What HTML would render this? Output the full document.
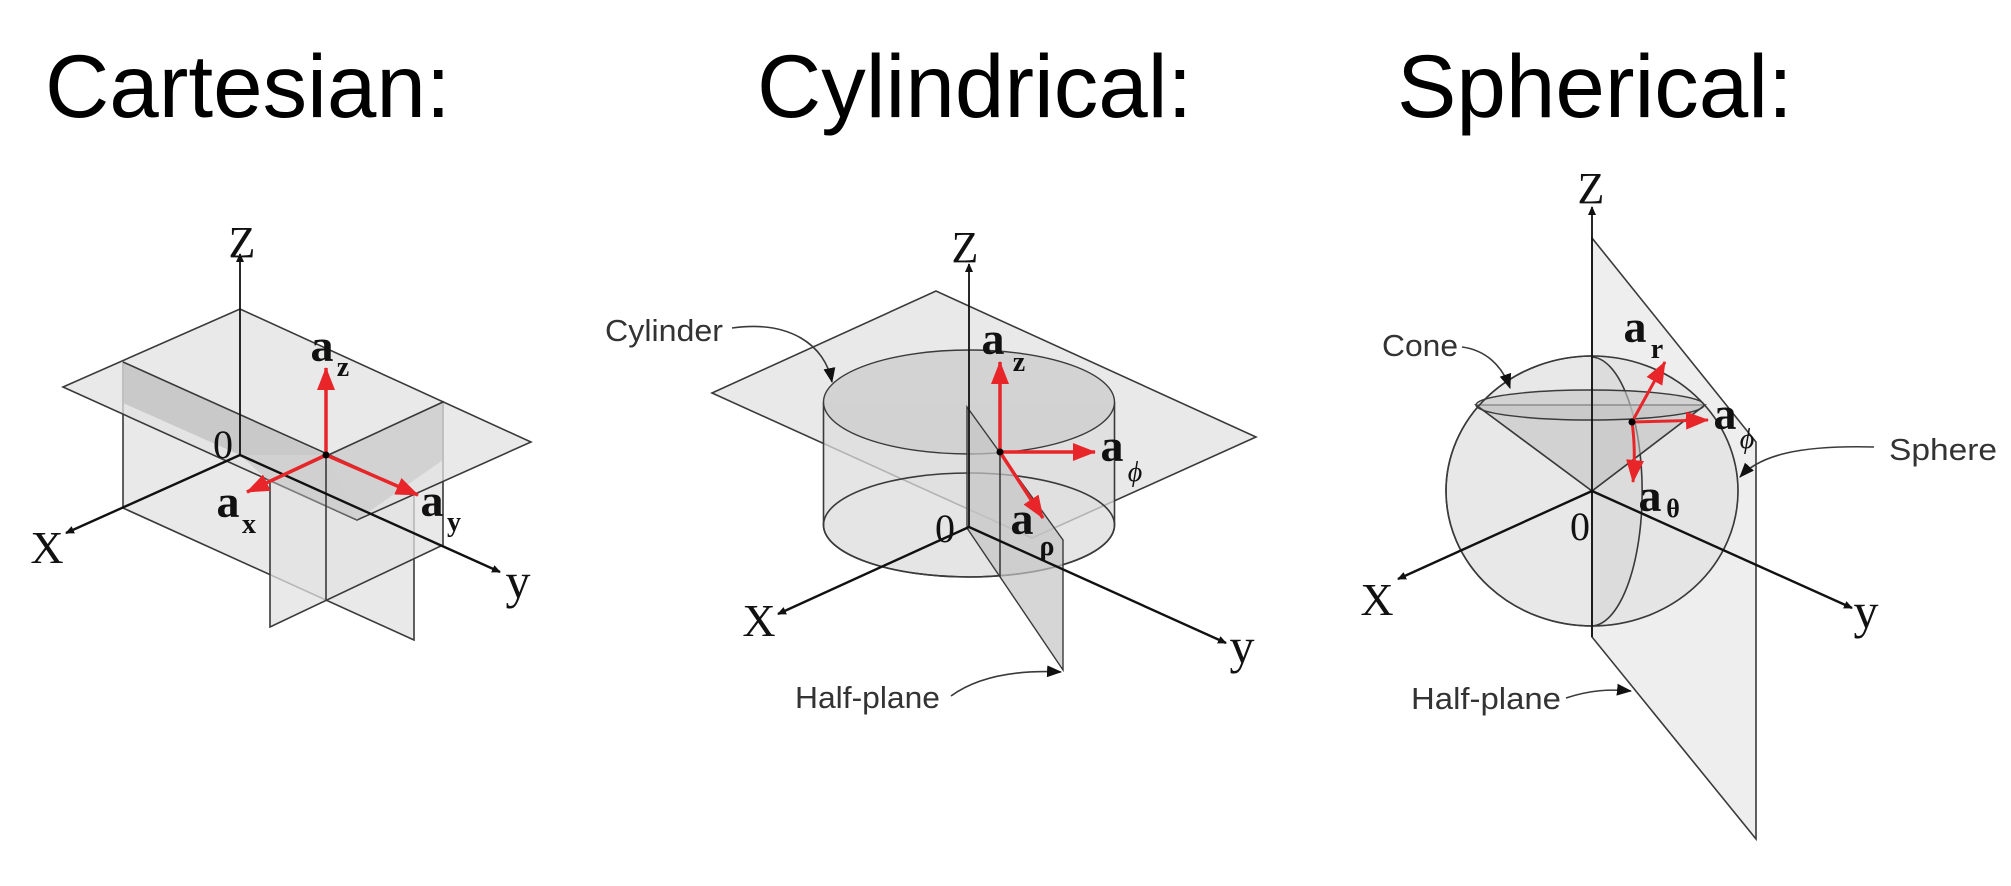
<!DOCTYPE html>
<html><head><meta charset="utf-8"><style>
html,body{margin:0;padding:0;background:#fff;}
svg{display:block;}
.t{font-family:"Liberation Sans",sans-serif;font-size:89px;fill:#000;}
.s{font-family:"Liberation Serif",serif;fill:#111;}
.b{font-family:"Liberation Serif",serif;font-weight:bold;fill:#111;}
.n{font-family:"Liberation Sans",sans-serif;fill:#333;font-size:31px;}
.ln{stroke:#3a3a3a;stroke-width:1.6;fill:none;}
.pl{fill:#e2e2e2;stroke:#3a3a3a;stroke-width:1.6;fill-opacity:.75;}
.dk{fill:#bdbdbd;fill-opacity:.7;stroke:#3a3a3a;stroke-width:1.4;}
.ax{stroke:#111;stroke-width:2.4;fill:none;}
.rd{stroke:#e8262a;stroke-width:3.5;fill:none;}
</style></head><body>
<svg width="2011" height="886" viewBox="0 0 2011 886" xmlns="http://www.w3.org/2000/svg">
<defs>
<marker id="ar" markerWidth="10" markerHeight="10" refX="8" refY="5" orient="auto" markerUnits="userSpaceOnUse"><path d="M0,1 L9,5 L0,9 z" fill="#111"/></marker>
<marker id="rr" markerWidth="24" markerHeight="18" refX="22" refY="9" orient="auto" markerUnits="userSpaceOnUse"><path d="M0,0 L23,9 L0,18 z" fill="#e8262a"/></marker>
<marker id="la" markerWidth="16" markerHeight="14" refX="14" refY="7" orient="auto" markerUnits="userSpaceOnUse"><path d="M0,1 L15,7 L0,13 z" fill="#111"/></marker>
</defs>

<text class="t" x="45" y="117">Cartesian:</text>
<text class="t" x="757" y="117">Cylindrical:</text>
<text class="t" x="1397" y="117">Spherical:</text>

<!-- CARTESIAN -->
<polygon class="pl" points="123,362 414,493 414,640 123,508"/>
<polygon class="pl" points="443,402 270,482 270,627 443,545"/>
<polygon class="pl" points="63,387 240,309 531,442 357,520"/>
<polygon class="dk" points="123,362 326,455 240,455 123,403" style="stroke:none"/>
<polygon class="dk" points="240,455 326,455 357,520 270,482" style="stroke:none;fill-opacity:.5"/>
<polygon class="dk" points="326,455 443,402 443,460 357,520" style="stroke:none;fill-opacity:.45"/>
<line class="ln" x1="123" y1="362" x2="414" y2="493"/>
<line class="ln" x1="270" y1="482" x2="443" y2="402"/>
<line class="ln" x1="326" y1="455" x2="326" y2="600"/>
<line class="ax" x1="240" y1="455" x2="240" y2="254" marker-end="url(#ar)" style="stroke-width:1.8"/>
<line class="ax" x1="240" y1="455" x2="66" y2="533" marker-end="url(#ar)"/>
<line class="ax" x1="240" y1="455" x2="500" y2="572" marker-end="url(#ar)"/>
<text class="s" x="242" y="257" font-size="44" text-anchor="middle">Z</text>
<text class="s" x="47" y="563" font-size="46" text-anchor="middle">X</text>
<text class="s" x="518" y="598" font-size="50" text-anchor="middle">y</text>
<text class="s" x="223" y="458" font-size="40" text-anchor="middle">0</text>
<line class="rd" x1="326" y1="455" x2="326" y2="368" marker-end="url(#rr)"/>
<line class="rd" x1="326" y1="455" x2="247" y2="492" marker-end="url(#rr)"/>
<line class="rd" x1="326" y1="455" x2="418" y2="495" marker-end="url(#rr)"/>
<circle cx="326" cy="455" r="3.5" fill="#000"/>
<text class="b" x="322" y="361" font-size="46" text-anchor="middle">a</text>
<text class="b" x="343" y="376" font-size="28" text-anchor="middle">z</text>
<text class="b" x="228" y="517" font-size="46" text-anchor="middle">a</text>
<text class="b" x="249" y="533" font-size="28" text-anchor="middle">x</text>
<text class="b" x="432" y="516" font-size="46" text-anchor="middle">a</text>
<text class="b" x="454" y="531" font-size="28" text-anchor="middle">y</text>

<!-- CYLINDRICAL -->
<polygon class="pl" points="712,393 936,291 1256,437 1032,538"/>
<path class="pl" d="M823.5,402 L823.5,525 A145.5,52 0 0 0 1114.5,525 L1114.5,402" style="fill:#dcdcdc"/>
<ellipse class="ln" cx="969" cy="525" rx="145.5" ry="52"/>
<ellipse class="dk" cx="969" cy="402" rx="145.5" ry="52" style="fill:#cfcfcf;fill-opacity:.85"/>
<polygon class="dk" points="967,407 1063,540 1063,670 967,528" style="fill:#c4c4c4"/>
<line class="ln" x1="1000" y1="452" x2="1000" y2="577"/>
<line class="ax" x1="969" y1="527" x2="969" y2="264" marker-end="url(#ar)" style="stroke-width:1.8"/>
<line class="ax" x1="969" y1="527" x2="778" y2="614" marker-end="url(#ar)"/>
<line class="ax" x1="969" y1="527" x2="1226" y2="643" marker-end="url(#ar)"/>
<text class="s" x="965" y="262" font-size="44" text-anchor="middle">Z</text>
<text class="s" x="759" y="636" font-size="46" text-anchor="middle">X</text>
<text class="s" x="1242" y="663" font-size="50" text-anchor="middle">y</text>
<text class="s" x="945" y="542" font-size="40" text-anchor="middle">0</text>
<line class="rd" x1="1000" y1="452" x2="1000" y2="362" marker-end="url(#rr)"/>
<line class="rd" x1="1000" y1="452" x2="1095" y2="452" marker-end="url(#rr)"/>
<line class="rd" x1="1000" y1="452" x2="1043" y2="518" marker-end="url(#rr)"/>
<circle cx="1000" cy="452" r="3.5" fill="#000"/>
<text class="b" x="993" y="354" font-size="46" text-anchor="middle">a</text>
<text class="b" x="1019" y="371" font-size="28" text-anchor="middle">z</text>
<text class="b" x="1112" y="461" font-size="46" text-anchor="middle">a</text>
<text class="s" x="1135" y="481" font-size="28" font-style="italic" text-anchor="middle">ϕ</text>
<text class="b" x="1022" y="534" font-size="46" text-anchor="middle">a</text>
<text class="b" x="1047" y="555" font-size="28" text-anchor="middle">ρ</text>
<text class="n" x="605" y="341" textLength="118" lengthAdjust="spacingAndGlyphs">Cylinder</text>
<path d="M732,328 C790,320 825,345 832,382" class="ln" marker-end="url(#la)"/>
<text class="n" x="795" y="708" textLength="145" lengthAdjust="spacingAndGlyphs">Half-plane</text>
<path d="M951,696 C980,675 1020,670 1061,672" class="ln" marker-end="url(#la)"/>

<!-- SPHERICAL -->
<ellipse class="pl" cx="1592" cy="491" rx="146" ry="135" style="fill:#e0e0e0"/>
<path d="M1591,357 A51,134 0 0 1 1591,626 L1591,491 z" class="dk" style="fill:#c8c8c8;stroke:none"/>
<polygon class="pl" points="1592,238 1756,442 1756,839 1592,637" style="fill-opacity:.6"/>
<path class="ln" d="M1591,357 A51,134 0 0 1 1591,626"/>
<polygon class="dk" points="1476,405 1705,405 1592,491" style="fill:#bfbfbf;fill-opacity:.55"/>
<ellipse class="dk" cx="1590" cy="405" rx="114" ry="15" style="fill:#c4c4c4;fill-opacity:.6"/>
<line class="ln" x1="1476" y1="405" x2="1592" y2="491"/>
<line class="ln" x1="1705" y1="405" x2="1592" y2="491"/>
<ellipse class="ln" cx="1592" cy="491" rx="146" ry="135"/>
<line class="ax" x1="1592" y1="637" x2="1592" y2="207" marker-end="url(#ar)" style="stroke-width:1.8"/>
<line class="ax" x1="1592" y1="491" x2="1398" y2="579" marker-end="url(#ar)"/>
<line class="ax" x1="1592" y1="491" x2="1852" y2="608" marker-end="url(#ar)"/>
<text class="s" x="1591" y="203" font-size="44" text-anchor="middle">Z</text>
<text class="s" x="1377" y="615" font-size="46" text-anchor="middle">X</text>
<text class="s" x="1866" y="628" font-size="50" text-anchor="middle">y</text>
<text class="s" x="1580" y="540" font-size="40" text-anchor="middle">0</text>
<line class="rd" x1="1632" y1="422" x2="1665" y2="362" marker-end="url(#rr)" style="stroke-width:3"/>
<line class="rd" x1="1632" y1="422" x2="1708" y2="420" marker-end="url(#rr)" style="stroke-width:3"/>
<path class="rd" d="M1632,422 Q1636,450 1633,482" marker-end="url(#rr)" style="stroke-width:3"/>
<circle cx="1632" cy="422" r="3.5" fill="#000"/>
<text class="b" x="1635" y="342" font-size="46" text-anchor="middle">a</text>
<text class="b" x="1657" y="358" font-size="28" text-anchor="middle">r</text>
<text class="b" x="1725" y="429" font-size="46" text-anchor="middle">a</text>
<text class="s" x="1747" y="448" font-size="28" font-style="italic" text-anchor="middle">ϕ</text>
<text class="b" x="1650" y="511" font-size="46" text-anchor="middle">a</text>
<text class="b" x="1673" y="517" font-size="26" text-anchor="middle">θ</text>
<text class="n" x="1382" y="356" textLength="76" lengthAdjust="spacingAndGlyphs">Cone</text>
<path d="M1462,347 C1485,350 1502,365 1510,388" class="ln" marker-end="url(#la)"/>
<text class="n" x="1889" y="460" textLength="108" lengthAdjust="spacingAndGlyphs">Sphere</text>
<path d="M1874,447 C1800,445 1760,455 1740,477" class="ln" marker-end="url(#la)"/>
<text class="n" x="1411" y="709" textLength="150" lengthAdjust="spacingAndGlyphs">Half-plane</text>
<path d="M1566,698 C1590,690 1610,689 1631,691" class="ln" marker-end="url(#la)"/>
</svg>
</body></html>
